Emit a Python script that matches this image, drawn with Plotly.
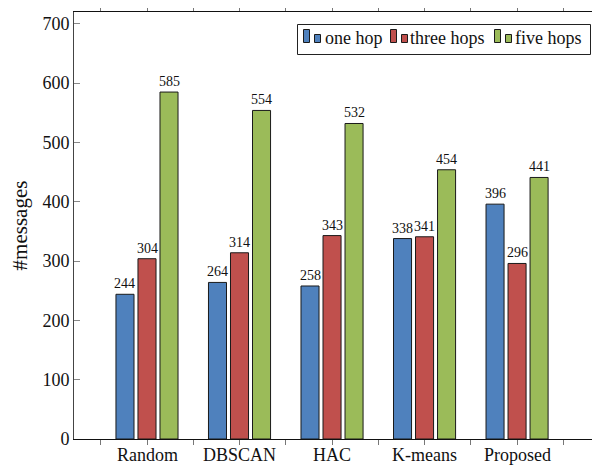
import plotly.graph_objects as go

categories = ["Random", "DBSCAN", "HAC", "K-means", "Proposed"]
one_hop = [244, 264, 258, 338, 396]
three_hops = [304, 314, 343, 341, 296]
five_hops = [585, 554, 532, 454, 441]
series_names = ["one hop", "three hops", "five hops"]
series_values = [one_hop, three_hops, five_hops]
colors = ["#4F81BD", "#C0504D", "#9BBB59"]
y_ticks = [0, 100, 200, 300, 400, 500, 600, 700]

FONT = "Liberation Serif"
TXT = "#111111"
xpos = list(range(1, len(categories) + 1))
bar_w = 0.195
centers = [-0.238, 0.0, 0.238]

# figure geometry (page body adds an 8px margin)
W, H = 584, 458
ML, MR, MT, MB = 66, 0, 4, 27
PW, PH = W - ML - MR, H - MT - MB


def px(xa):  # absolute page x -> paper
    return (xa - 8 - ML) / PW


def py(ya):  # absolute page y -> paper
    return (H - MB - (ya - 8)) / PH


fig = go.Figure()
annotations = []
for name, vals, col, c in zip(series_names, series_values, colors, centers):
    fig.add_trace(go.Bar(
        x=xpos, y=vals, name=name,
        width=bar_w, offset=c - bar_w / 2,
        marker=dict(color=col, line=dict(color="#1a1a1a", width=1)),
        showlegend=False,
    ))
    for xi, v in zip(xpos, vals):
        annotations.append(dict(
            x=xi + c, y=v, text=str(v), showarrow=False,
            xanchor="center", yanchor="bottom", yshift=1,
            font=dict(family=FONT, size=14, color=TXT),
        ))

# category labels under the axis (kept inside the figure)
for xi, cat in zip(xpos, categories):
    annotations.append(dict(
        x=xi, xref="x", yref="paper", y=py(466), text=cat, showarrow=False,
        xanchor="center", yanchor="bottom", borderpad=0,
        font=dict(family=FONT, size=18, color=TXT),
    ))

# custom legend (box + two small bar icons per entry + label)
shapes = [dict(type="rect", xref="paper", yref="paper",
               x0=px(297.5), x1=px(590.5), y0=py(54.5), y1=py(24.5),
               line=dict(color="#222", width=1), fillcolor="white", layer="above")]
icon_lefts = [303, 390, 494]
text_lefts = [323, 408, 513]
for name, col, xl, tl in zip(series_names, colors, icon_lefts, text_lefts):
    shapes.append(dict(type="rect", xref="paper", yref="paper",
                       x0=px(xl + 0.5), x1=px(xl + 6.5), y0=py(42.5), y1=py(29.5),
                       line=dict(color="#1a1a1a", width=1), fillcolor=col, layer="above"))
    shapes.append(dict(type="rect", xref="paper", yref="paper",
                       x0=px(xl + 11.5), x1=px(xl + 17.5), y0=py(42.5), y1=py(34.5),
                       line=dict(color="#1a1a1a", width=1), fillcolor=col, layer="above"))
    annotations.append(dict(
        xref="paper", yref="paper", x=px(tl), y=py(38.5), text=name,
        showarrow=False, xanchor="left", yanchor="middle",
        font=dict(family=FONT, size=18, color=TXT),
    ))

tickvals = [v for xi in xpos for v in (xi - 0.5, xi)] + [xpos[-1] + 0.5]

fig.update_layout(
    width=W, height=H,
    margin=dict(l=ML, r=MR, t=MT, b=MB, pad=0, autoexpand=False),
    paper_bgcolor="white", plot_bgcolor="white",
    barmode="overlay",
    showlegend=False,
    annotations=annotations,
    shapes=shapes,
    font=dict(family=FONT, size=16, color=TXT),
)
fig.update_xaxes(
    range=[0.211, 5.81],
    tickvals=tickvals, showticklabels=False,
    ticks="outside", ticklen=5, tickcolor="#777", tickwidth=1,
    showline=True, linecolor="#111", linewidth=1, mirror="ticks",
    showgrid=False, zeroline=False, automargin=False,
)
fig.update_yaxes(
    range=[0, 720],
    tickvals=y_ticks,
    ticks="inside", ticklen=6, tickcolor="#888", tickwidth=1,
    showline=True, linecolor="#444", linewidth=1, mirror=False,
    showgrid=False, zeroline=False, automargin=False,
    tickfont=dict(family=FONT, size=18, color=TXT),
    title=dict(text="#messages", font=dict(family=FONT, size=21, color=TXT), standoff=14),
)

fig.write_html("out.html")
